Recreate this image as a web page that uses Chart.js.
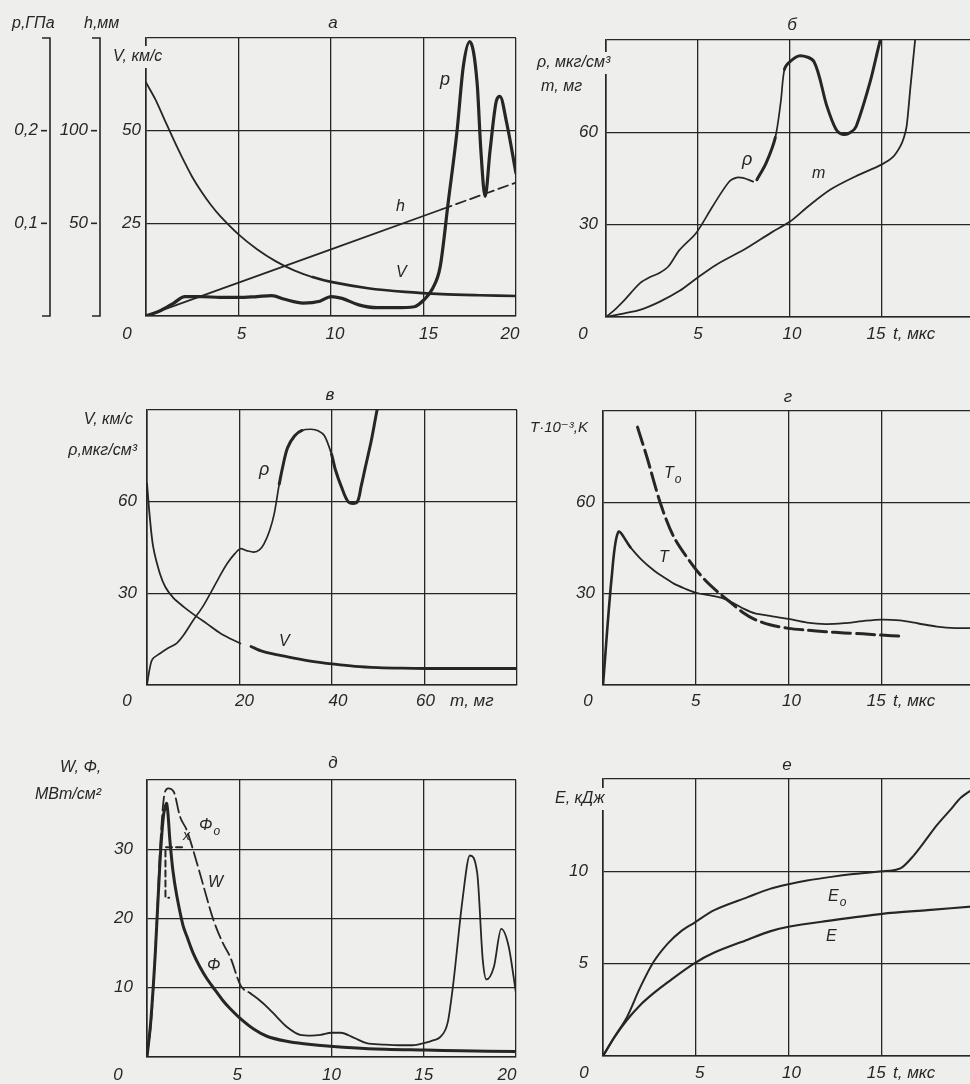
<!DOCTYPE html>
<html>
<head>
<meta charset="utf-8">
<script src="https://cdn.jsdelivr.net/npm/chart.js@4.4.1/dist/chart.umd.min.js"></script>
<style>
  html, body { margin:0; padding:0; width:970px; height:1084px; overflow:hidden; background:#eeeeec; }
  canvas { position:absolute; left:0; top:0; }
</style>
</head>
<body>
<canvas id="cA" width="990" height="1084"></canvas>
<canvas id="cB" width="990" height="1084"></canvas>
<canvas id="cV" width="990" height="1084"></canvas>
<canvas id="cG" width="990" height="1084"></canvas>
<canvas id="cD" width="990" height="1084"></canvas>
<canvas id="cE" width="990" height="1084"></canvas>
<script>
// ---- а: V, h, p против t (мкс)
const tA_V = [0, 0.5, 1, 1.5, 2, 2.5, 3, 3.5, 4, 5, 6, 7, 8, 9, 10, 12, 14, 16, 18, 20];
const vA   = [63, 58.5, 53, 47.5, 42.3, 37.5, 33.5, 30, 27, 22, 18, 14.8, 12.3, 10.5, 9.2, 7.5, 6.5, 5.9, 5.6, 5.4];
const tA_h = [0, 10, 16, 20];
const hA   = [0, 36, 57.6, 72];
const tA_p = [0, 0.8, 1.5, 2.1, 3, 4, 5, 6, 6.8, 7.5, 8.5, 9.4, 10, 10.6, 11.5, 12.5, 13.5, 14.5, 15, 15.5, 15.9, 16.35, 16.8, 17.15, 17.5, 17.9, 18.1, 18.33, 18.6, 18.95, 19.13, 19.5, 20];
const pA   = [0, 0.006, 0.014, 0.021, 0.021, 0.020, 0.020, 0.021, 0.022, 0.018, 0.014, 0.016, 0.021, 0.019, 0.012, 0.009, 0.009, 0.010, 0.017, 0.030, 0.053, 0.125, 0.197, 0.269, 0.296, 0.251, 0.179, 0.129, 0.179, 0.233, 0.237, 0.208, 0.154];
const gridXA = [0, 5, 10, 15, 20];
const gridYA = [0, 25, 50, 75];
const yTicksA = [25, 50];      const yLabA = ['25', '50'];
const hTicksA = [50, 100];     const hLabA = ['50', '100'];
const pTicksA = [0.1, 0.2];    const pLabA = ['0,1', '0,2'];

// ---- б: ρ, m против t
const tB_r = [0, 0.5, 1, 1.85, 2.4, 2.9, 3.4, 4, 4.9, 5.8, 6.7, 7.1, 7.45, 8, 8.1, 8.2, 8.7, 9.2, 9.5, 9.7, 10, 10.55, 11.3, 12, 12.5, 12.9, 13.3, 13.6, 14.35, 14.9, 15.1];
const rB   = [0, 2.5, 5.5, 11, 13, 14.3, 16.5, 21.8, 27.3, 36, 44, 45.3, 45.2, 44, null, 44.6, 50, 58.3, 70, 80.5, 83, 84.9, 83, 68.6, 61, 59.3, 60, 62, 76.3, 89.8, 93];
const tB_m = [0, 1, 1.85, 2.93, 4, 4.93, 6, 7.65, 9, 10, 11, 12.2, 13.5, 15, 15.6, 16, 16.2, 16.34, 16.55, 16.8];
const mB   = [0, 1.2, 2.3, 5, 8.5, 12.6, 17, 22.4, 27.5, 31, 36, 41.4, 45.5, 49.6, 52, 55.5, 58.5, 62, 75, 90];
const gridXB = [0, 5, 10, 15, 20];
const gridYB = [0, 30, 60, 90];

// ---- в: V, ρ против m (мг)
const mV_r = [0, 0.65, 1.2, 2.8, 4.5, 6.4, 8, 10, 12, 13.7, 15.5, 17.3, 19, 20.2, 21.5, 23.1, 24.3, 25.3, 26.5, 27.5, 28.6, 29.5, 30.4, 31.9, 33.5, 35.5, 37, 38.4, 39.9, 40.7, 42, 43.6, 45.4, 46.3, 47.2, 48.5, 49.7, 50.2];
const rV   = [0, 5.9, 8.5, 10.3, 12, 13.6, 16.5, 21.2, 25.5, 30, 35, 39.7, 43, 44.6, 44, 43.5, 44.2, 46.2, 50.5, 56, 65.8, 72.5, 77.7, 81.5, 83.3, 83.7, 83.2, 81.5, 75.5, 70.6, 65, 59.8, 59.8, 65, 71.2, 80, 89.7, 93];
const mV_v = [0, 0.6, 1.35, 2.8, 4, 5.7, 8, 10, 13, 16, 20.2, 21, 22.5, 25, 30.4, 35, 40.5, 45, 50, 55, 60.4, 70, 80];
const vV   = [66, 55, 45.1, 36.4, 32, 28.5, 25.5, 23.2, 20, 16.8, 13.6, null, 12.6, 11, 9.2, 7.9, 6.8, 6.1, 5.7, 5.5, 5.4, 5.4, 5.4];
const gridXV = [0, 20, 40, 60, 80];
const gridYV = [0, 30, 60, 90];

// ---- г: T, T0 против t
const tG_T = [0, 0.47, 0.83, 1.47, 2.1, 2.73, 3.3, 3.82, 4.4, 5, 5.7, 6.36, 7, 7.6, 8.2, 9, 10, 11, 12, 13, 14, 15, 16, 17, 18, 19, 20];
const TG   = [0, 35.5, 50.3, 45.3, 41, 37.7, 35.3, 33.3, 31.7, 30.3, 29.5, 28.7, 27, 25, 23.5, 22.7, 21.7, 20.5, 20, 20.3, 21, 21.5, 21.2, 20.2, 19.2, 18.7, 18.7];
const tG_T0 = [1.86, 2.37, 3.1, 3.82, 4.9, 5.5, 6.18, 6.8, 7.5, 8.2, 9, 10, 11, 12, 13, 14, 15, 16.1];
const T0G   = [84.7, 74.8, 59.6, 48.6, 38.8, 34.5, 30.6, 27.5, 24, 21.5, 19.8, 18.6, 18, 17.5, 17.1, 16.8, 16.4, 16];
const gridXG = [0, 5, 10, 15, 20];
const gridYG = [0, 30, 60, 90];

// ---- д: W, Φ, Φ0 против t
const tD_W = [0, 0.25, 0.5, 0.75, 0.95, 1.15, 1.45, 1.79, 2.15, 2.5, 2.87, 3.6, 4.1, 4.5, 5.08, 5.6, 6.1, 6.6, 7.03, 7.6, 8.3, 8.9, 9.4, 10, 10.5, 11.2, 11.9, 12.8, 13.7, 14.4, 15, 15.5, 15.9, 16.3, 16.6, 17.1, 17.5, 17.9, 18.2, 18.4, 18.8, 19.2, 19.6, 20];
const WD   = [0, 6, 18, 32, 38, 38.8, 38.3, 34.7, 32.8, 29.9, 26.5, 19.8, 16.5, 14.5, 10.3, 9.2, 8.2, 7, 5.8, 4.3, 3.2, 3.1, 3.2, 3.5, 3.5, 2.8, 2, 1.8, 1.7, 1.7, 2, 2.4, 2.9, 5, 10.6, 22.7, 29.1, 26.5, 14, 11.2, 13, 18.5, 16, 9.2];
const tD_F = [0, 0.2, 0.45, 0.7, 0.9, 1.07, 1.25, 1.4, 1.6, 1.95, 2.15, 2.5, 2.87, 3.25, 3.6, 4.1, 4.5, 5.08, 5.8, 6.5, 7.5, 8.5, 10.1, 12, 15.1, 17, 20];
const FD   = [0, 5, 15, 28, 35, 36.6, 31, 27, 23.5, 19, 17.5, 15, 13, 11.3, 10, 8.2, 7, 5.5, 4, 3, 2.3, 1.9, 1.5, 1.2, 1, 0.9, 0.8];
const tD_F0 = [1.9, 1.0, 1.0, 1.2];
const F0D   = [30.3, 30.3, 23, 23];
const gridXD = [0, 5, 10, 15, 20];
const gridYD = [0, 10, 20, 30, 40];

// ---- е: E, E0 против t
const tE_0 = [0, 0.6, 1.29, 2, 2.73, 3.5, 4.2, 4.9, 6, 7.8, 9, 10, 11, 12.3, 13.5, 15.05, 15.6, 16.1, 16.7, 17.4, 18, 18.7, 19.3, 20];
const E0E  = [0, 1, 2.1, 3.7, 5.1, 6.1, 6.75, 7.2, 7.9, 8.6, 9.05, 9.3, 9.5, 9.7, 9.85, 10, 10.05, 10.2, 10.8, 11.7, 12.5, 13.3, 14, 14.5];
const tE_E = [0, 0.6, 1.29, 2, 2.73, 3.5, 4.9, 6, 7.8, 9, 10, 12, 15.05, 17.5, 20];
const EE   = [0, 1, 1.95, 2.75, 3.4, 4, 5, 5.6, 6.3, 6.75, 7, 7.3, 7.7, 7.9, 8.1];
const gridXE = [0, 5, 10, 15, 20];
const gridYE = [0, 5, 10, 15];

// ---------------------------------------------------------------
const INK = '#262626';
const BG = '#eeeeec';
const FONT = '"Liberation Sans", "DejaVu Sans", sans-serif';
const CW = 990, CH = 1084;

const pts = (xs, ys) => xs.map((x, i) => ({ x, y: ys[i] }));

function line(xs, ys, width, extra) {
  return Object.assign({
    data: pts(xs, ys), borderColor: INK, borderWidth: width,
    pointRadius: 0, fill: false, spanGaps: false, tension: 0.3,
    borderCapStyle: 'round', borderJoinStyle: 'round'
  }, extra || {});
}

function axis(min, max, grid, isX) {
  return {
    type: 'linear', min, max,
    afterBuildTicks: s => { s.ticks = grid.map(v => ({ value: v })); },
    afterFit: s => { if (isX) s.height = 0; else s.width = 0; },
    ticks: { display: false },
    grid: { color: INK, lineWidth: 1.3, drawTicks: false },
    border: { color: INK, width: 1.6 }
  };
}

function txt(ctx, t) {
  ctx.save();
  ctx.font = `italic ${t.size || 16}px ${FONT}`;
  ctx.textBaseline = 'middle';
  ctx.textAlign = t.align || 'left';
  const w = ctx.measureText(t.text).width;
  if (t.bg) {
    const x0 = t.align === 'center' ? t.x - w / 2 : (t.align === 'right' ? t.x - w : t.x);
    ctx.fillStyle = BG;
    ctx.fillRect(x0 - 3, t.y - 11, w + 6, 22);
  }
  ctx.fillStyle = INK;
  ctx.fillText(t.text, t.x, t.y);
  if (t.sub) {
    ctx.font = `italic ${Math.round((t.size || 16) * 0.75)}px ${FONT}`;
    ctx.textAlign = 'left';
    ctx.fillText(t.sub, t.x + w + 1, t.y + 6);
  }
  ctx.restore();
}

function decorate(chart, s) {
  const ctx = chart.ctx, ca = chart.chartArea, sx = chart.scales.x, sy = chart.scales.y;
  ctx.save();
  ctx.fillStyle = INK;
  ctx.font = `italic 17px ${FONT}`;
  ctx.textBaseline = 'middle';
  ctx.textAlign = 'center';
  s.xTicks.forEach((v, i) => ctx.fillText(s.xLabels[i], sx.getPixelForValue(v) + s.xDx[i], ca.bottom + s.xLabY));
  ctx.textAlign = 'right';
  s.yTicks.forEach((v, i) => ctx.fillText(s.yLabels[i], ca.left - s.yGap, sy.getPixelForValue(v)));
  ctx.restore();
  if (s.extra) s.extra(chart);
  (s.texts || []).forEach(t => txt(ctx, t));
}

function panel(id, s) {
  const b = s.box;
  const scales = { x: axis(s.xMin || 0, s.xMax, s.gridX, true), y: axis(0, s.yMax, s.gridY, false) };
  Object.assign(scales, s.extraScales || {});
  new Chart(document.getElementById(id), {
    type: 'line',
    data: { datasets: s.datasets },
    options: {
      responsive: false, animation: false, events: [],
      layout: { padding: { left: b.l, top: b.t, right: CW - b.r, bottom: CH - b.b } },
      plugins: { legend: { display: false }, tooltip: { enabled: false } },
      scales
    },
    plugins: [{ id: 'deco', afterDraw: c => decorate(c, s) }]
  });
}

const thick = (from, to, a, b) => ctx => (ctx.p0.parsed.x >= from && ctx.p0.parsed.x < to) ? a : b;

// а
panel('cA', {
  box: { l: 146, t: 38, r: 516, b: 316 },
  xMax: 20, yMax: 75, gridX: gridXA, gridY: gridYA,
  extraScales: {
    yp: { type: 'linear', display: false, min: 0, max: 0.3 },
    yh: { type: 'linear', display: false, min: 0, max: 150 }
  },
  datasets: [
    line(tA_V, vA, 1.8, { segment: { borderWidth: thick(9, 99, 2.6, 1.8) } }),
    line(tA_h, hA, 1.8, { yAxisID: 'yh', tension: 0,
      segment: { borderDash: c => c.p0.parsed.x >= 16 ? [10, 5] : undefined } }),
    line(tA_p, pA, 3.2, { yAxisID: 'yp', cubicInterpolationMode: 'monotone' })
  ],
  xTicks: gridXA, xLabels: ['0', '5', '10', '15', '20'], xDx: [-19, 3, 4, 5, -6], xLabY: 18,
  yTicks: yTicksA, yLabels: yLabA, yGap: 5,
  extra: chart => {
    const ctx = chart.ctx, ca = chart.chartArea;
    ctx.save();
    ctx.strokeStyle = INK; ctx.fillStyle = INK; ctx.lineWidth = 1.6;
    [[50, chart.scales.yp, pTicksA, pLabA], [100, chart.scales.yh, hTicksA, hLabA]].forEach(([bx, sc, vals, labs]) => {
      ctx.beginPath();
      ctx.moveTo(bx - 8, ca.top); ctx.lineTo(bx, ca.top); ctx.lineTo(bx, ca.bottom); ctx.lineTo(bx - 8, ca.bottom);
      ctx.stroke();
      ctx.font = `italic 17px ${FONT}`; ctx.textAlign = 'right'; ctx.textBaseline = 'middle';
      vals.forEach((v, i) => {
        const py = sc.getPixelForValue(v);
        ctx.beginPath(); ctx.moveTo(bx - 9, py); ctx.lineTo(bx - 3, py); ctx.stroke();
        ctx.fillText(labs[i], bx - 12, py);
      });
    });
    ctx.restore();
  },
  texts: [
    { text: 'а', x: 333, y: 23, align: 'center', size: 17 },
    { text: 'p,ГПа', x: 12, y: 24 },
    { text: 'h,мм', x: 84, y: 24 },
    { text: 'V, км/с', x: 113, y: 57, bg: true },
    { text: 'p', x: 440, y: 80, size: 18 },
    { text: 'h', x: 396, y: 207 },
    { text: 'V', x: 396, y: 273 }
  ]
});

// б
panel('cB', {
  box: { l: 606, t: 40, r: 974, b: 317 },
  xMax: 20, yMax: 90, gridX: gridXB, gridY: gridYB,
  datasets: [
    line(tB_r, rB, 1.7, { segment: { borderWidth: c => (c.p0.parsed.x >= 8.1 && c.p0.parsed.x < 9.2) || c.p0.parsed.x >= 9.7 ? 3 : 1.7 } }),
    line(tB_m, mB, 1.8)
  ],
  xTicks: [0, 5, 10, 15], xLabels: ['0', '5', '10', '15'], xDx: [-23, 0, 2, -6], xLabY: 17,
  yTicks: [30, 60], yLabels: ['30', '60'], yGap: 8,
  texts: [
    { text: 'б', x: 792, y: 25, align: 'center', size: 17 },
    { text: 'ρ, мкг/см³', x: 537, y: 63, bg: true },
    { text: 'm, мг', x: 541, y: 87, bg: true },
    { text: 'ρ', x: 742, y: 160, size: 18 },
    { text: 'm', x: 812, y: 174 },
    { text: 't, мкс', x: 893, y: 334, size: 17 }
  ]
});

// в
panel('cV', {
  box: { l: 147, t: 410, r: 517, b: 685 },
  xMax: 80, yMax: 90, gridX: gridXV, gridY: gridYV,
  datasets: [
    line(mV_r, rV, 1.7, { segment: { borderWidth: c => (c.p0.parsed.x >= 28 && c.p0.parsed.x < 32.5) || c.p0.parsed.x >= 38.5 ? 3 : 1.7 } }),
    line(mV_v, vV, 1.8, { segment: { borderWidth: thick(22, 999, 2.8, 1.8) } })
  ],
  xTicks: [0, 20, 40, 60], xLabels: ['0', '20', '40', '60'], xDx: [-20, 5, 6, 1], xLabY: 16,
  yTicks: [30, 60], yLabels: ['30', '60'], yGap: 10,
  texts: [
    { text: 'в', x: 330, y: 395, align: 'center', size: 17 },
    { text: 'V, км/с', x: 133, y: 420, align: 'right' },
    { text: 'ρ,мкг/см³', x: 137, y: 451, align: 'right' },
    { text: 'ρ', x: 259, y: 470, size: 18 },
    { text: 'V', x: 279, y: 642 },
    { text: 'm, мг', x: 450, y: 701, size: 17 }
  ]
});

// г
panel('cG', {
  box: { l: 603, t: 411, r: 974, b: 685 },
  xMax: 20, yMax: 90, gridX: gridXG, gridY: gridYG,
  datasets: [
    line(tG_T, TG, 1.8, { segment: { borderWidth: thick(0, 0.9, 2.6, 1.8) } }),
    line(tG_T0, T0G, 3, { borderDash: [18, 6] })
  ],
  xTicks: [0, 5, 10, 15], xLabels: ['0', '5', '10', '15'], xDx: [-15, 0, 3, -5], xLabY: 16,
  yTicks: [30, 60], yLabels: ['30', '60'], yGap: 8,
  texts: [
    { text: 'г', x: 788, y: 397, align: 'center', size: 17 },
    { text: 'T·10⁻³,K', x: 530, y: 428, size: 15 },
    { text: 'T', x: 664, y: 474, sub: 'o' },
    { text: 'T', x: 659, y: 558 },
    { text: 't, мкс', x: 893, y: 701, size: 17 }
  ]
});

// д
panel('cD', {
  box: { l: 147, t: 780, r: 516, b: 1057 },
  xMax: 20, yMax: 40, gridX: gridXD, gridY: gridYD,
  datasets: [
    line(tD_W, WD, 1.8, { cubicInterpolationMode: 'monotone',
      segment: { borderDash: c => c.p0.parsed.x < 5.1 ? [14, 5] : undefined } }),
    line(tD_F, FD, 3),
    line(tD_F0, F0D, 2, { tension: 0, borderDash: [6, 4] })
  ],
  xTicks: [0, 5, 10, 15, 20], xLabels: ['0', '5', '10', '15', '20'], xDx: [-29, -2, 0, 0, -9], xLabY: 18,
  yTicks: [10, 20, 30], yLabels: ['10', '20', '30'], yGap: 14,
  texts: [
    { text: 'д', x: 333, y: 763, align: 'center', size: 17 },
    { text: 'W, Φ,', x: 60, y: 768 },
    { text: 'МВт/см²', x: 35, y: 795 },
    { text: 'Φ', x: 199, y: 826, sub: 'o' },
    { text: 'x', x: 183, y: 836, size: 14 },
    { text: 'W', x: 208, y: 883 },
    { text: 'Φ', x: 207, y: 966 }
  ]
});

// е
panel('cE', {
  box: { l: 603, t: 779, r: 974, b: 1056 },
  xMax: 20, yMax: 15, gridX: gridXE, gridY: gridYE,
  datasets: [
    line(tE_0, E0E, 2),
    line(tE_E, EE, 2.2)
  ],
  xTicks: [0, 5, 10, 15], xLabels: ['0', '5', '10', '15'], xDx: [-19, 4, 3, -5], xLabY: 17,
  yTicks: [5, 10], yLabels: ['5', '10'], yGap: 15,
  texts: [
    { text: 'е', x: 787, y: 765, align: 'center', size: 17 },
    { text: 'E, кДж', x: 555, y: 799, bg: true },
    { text: 'E', x: 828, y: 897, sub: 'o' },
    { text: 'E', x: 826, y: 937 },
    { text: 't, мкс', x: 893, y: 1073, size: 17 }
  ]
});
</script>
</body>
</html>
